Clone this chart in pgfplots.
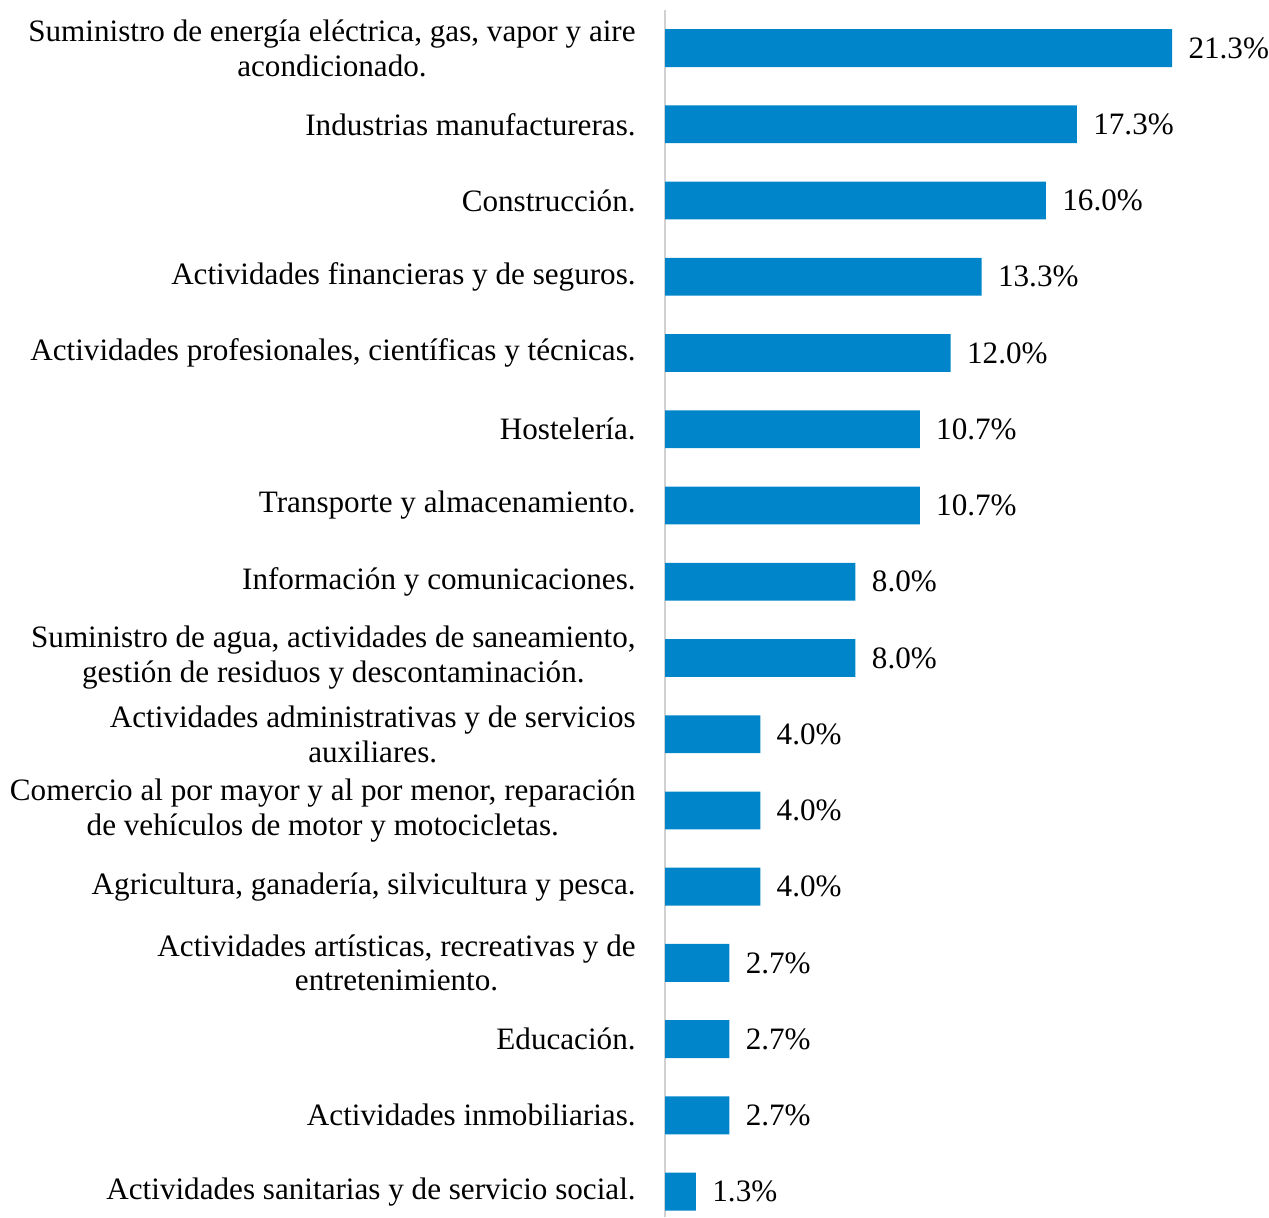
\documentclass[border=0pt]{standalone}
\usepackage{pgfplots}
\pgfplotsset{compat=1.18}
\usepackage{fontspec}
\setmainfont{Liberation Serif}
\definecolor{barblue}{HTML}{0085CA}
\begin{document}
\begin{tikzpicture}
  \begin{axis}[
    name=ax,
    xbar,
    scale only axis,
    width=240.8pt,
    height=484.4pt,
    xmin=0, xmax=25.2,
    ymin=-0.5, ymax=15.33,
    y dir=reverse,
    axis x line=none,
    axis y line*=left,
    y axis line style={draw=black!18, line width=0.8pt},
    xtick=\empty,
    ytick={0,...,15},
    major tick length=0pt,
    yticklabels={
      {Suministro de energía eléctrica, gas, vapor y aire\\acondicionado.},
      {Industrias manufactureras.},
      {Construcción.},
      {Actividades financieras y de seguros.},
      {Actividades profesionales, científicas y técnicas.},
      {Hostelería.},
      {Transporte y almacenamiento.},
      {Información y comunicaciones.},
      {Suministro de agua, actividades de saneamiento,\\gestión de residuos y descontaminación.},
      {Actividades administrativas y de servicios\\auxiliares.},
      {Comercio al por mayor y al por menor, reparación\\de vehículos de motor y motocicletas.},
      {Agricultura, ganadería, silvicultura y pesca.},
      {Actividades artísticas, recreativas y de\\entretenimiento.},
      {Educación.},
      {Actividades inmobiliarias.},
      {Actividades sanitarias y de servicio social.}
    },
    yticklabel style={align=center, inner sep=0pt, xshift=-11.6pt,
      font=\fontsize{12.5}{14}\selectfont},
    bar width=15.2pt,
    point meta=x,
    nodes near coords={\pgfmathprintnumber[fixed,fixed zerofill,precision=1,assume math mode=true]{\pgfplotspointmeta}\%},
    every node near coord/.append style={anchor=west, inner sep=0pt, xshift=6.4pt,
      font=\fontsize{12.5}{14}\selectfont, black},
  ]
    \addplot[fill=barblue, draw=none] coordinates {
      (21.3,0) (17.3,1) (16.0,2) (13.3,3) (12.0,4) (10.7,5) (10.7,6) (8.0,7)
      (8.0,8) (4.0,9) (4.0,10) (4.0,11) (2.7,12) (2.7,13) (2.7,14) (1.3,15)
    };
  \end{axis}
  % blank margins as in the original
  \path ([xshift=-4pt]ax.outer west) ([yshift=4pt]ax.north);
\end{tikzpicture}
\end{document}
